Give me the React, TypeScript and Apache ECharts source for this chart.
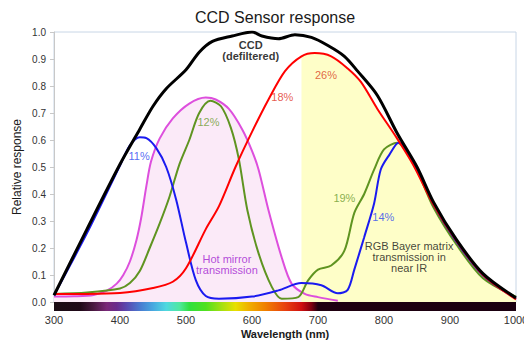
import React, { useEffect, useRef } from "react";
import * as echarts from "echarts";

const FONT = "'Liberation Sans', Arial, sans-serif";

const xTicks = [300, 400, 500, 600, 700, 800, 900, 1000];

const ccd: [number, number][] = [
  [300, 0.025], [350, 0.27], [400, 0.51], [430, 0.64], [450, 0.725], [470, 0.79],
  [500, 0.86], [520, 0.925], [540, 0.965], [570, 0.985], [600, 1.0], [615, 0.985],
  [640, 0.975], [665, 0.99], [690, 0.98], [715, 0.95], [740, 0.91], [760, 0.855],
  [790, 0.765], [820, 0.625], [850, 0.5], [875, 0.37], [910, 0.23], [950, 0.105], [1000, 0.015],
];

const red: [number, number][] = [
  [300, 0.03], [350, 0.03], [400, 0.033], [450, 0.052], [480, 0.075], [500, 0.125],
  [530, 0.27], [550, 0.355], [575, 0.5], [600, 0.63], [625, 0.75], [650, 0.855],
  [675, 0.91], [695, 0.922], [720, 0.91], [745, 0.865], [765, 0.815], [790, 0.715],
  [820, 0.605], [845, 0.505], [875, 0.36], [910, 0.225], [950, 0.1], [1000, 0.01],
];

const blue: [number, number][] = [
  [300, 0.025], [350, 0.255], [400, 0.505], [415, 0.58], [430, 0.61], [440, 0.607],
  [455, 0.57], [470, 0.5], [485, 0.38], [500, 0.22], [515, 0.08], [530, 0.022],
  [550, 0.012], [600, 0.02], [640, 0.043], [675, 0.07], [705, 0.062], [730, 0.032],
  [745, 0.045], [755, 0.12], [770, 0.24], [785, 0.365], [795, 0.49], [808, 0.545],
  [822, 0.59], [850, 0.49], [875, 0.36], [910, 0.222], [950, 0.098], [1000, 0.012],
];

const green: [number, number][] = [
  [300, 0.03], [350, 0.035], [400, 0.05], [415, 0.07], [430, 0.115], [445, 0.2],
  [460, 0.29], [475, 0.39], [490, 0.51], [505, 0.6], [520, 0.7], [537, 0.745],
  [553, 0.725], [568, 0.645], [580, 0.53], [593, 0.34], [610, 0.18], [630, 0.056],
  [645, 0.012], [670, 0.018], [685, 0.08], [700, 0.12], [720, 0.135], [740, 0.19],
  [755, 0.33], [770, 0.4], [785, 0.49], [800, 0.565], [820, 0.59], [850, 0.485],
  [875, 0.35], [910, 0.212], [950, 0.088], [1000, 0.02],
];

const hotMirror: [number, number][] = [
  [300, 0.02], [330, 0.021], [360, 0.026], [380, 0.042], [395, 0.068], [405, 0.1],
  [415, 0.15], [425, 0.23], [432, 0.31], [440, 0.43], [447, 0.52], [460, 0.605],
  [480, 0.68], [505, 0.735], [530, 0.757], [545, 0.75], [565, 0.715], [585, 0.64],
  [600, 0.56], [610, 0.49], [625, 0.34], [645, 0.165], [660, 0.068], [680, 0.03],
  [700, 0.018], [730, 0.005],
];

const irStart = 675;

const annotations = [
  { text: "CCD\n(defiltered)", wl: 598, v: 0.931, color: "#000000", bold: true },
  { text: "11%", wl: 429, v: 0.539, color: "#2a46f0", bold: false },
  { text: "12%", wl: 534, v: 0.668, color: "#6a9a2c", bold: false },
  { text: "18%", wl: 646, v: 0.758, color: "#e0301c", bold: false },
  { text: "26%", wl: 712, v: 0.842, color: "#d8401c", bold: false },
  { text: "19%", wl: 740, v: 0.387, color: "#6a9a2c", bold: false },
  { text: "14%", wl: 799, v: 0.315, color: "#2a46f0", bold: false },
  { text: "Hot mirror\ntransmission", wl: 562, v: 0.14, color: "#a020d0", bold: false },
  { text: "RGB Bayer matrix\ntransmission in\nnear IR", wl: 838, v: 0.168, color: "#111111", bold: false },
];

const spectrumStops: [number, string][] = [
  [300, "#1a0c14"], [340, "#200818"], [360, "#4a1840"], [380, "#7a2878"],
  [395, "#6a2a8c"], [410, "#5a48b0"], [430, "#4a7ad0"], [450, "#48a8e0"],
  [470, "#50d8e0"], [490, "#50e8a0"], [505, "#30e040"], [530, "#50e020"],
  [555, "#a8e010"], [575, "#e8e000"], [595, "#f0b000"], [620, "#f08000"],
  [650, "#e84010"], [675, "#d01010"], [690, "#800010"], [700, "#200010"], [1000, "#1a0010"],
];

const GRID = { left: 54, top: 32, width: 462, height: 270 };

export default function App() {
  const ref = useRef<HTMLDivElement>(null);
  useEffect(() => {
    if (!ref.current) return;
    const chart = echarts.init(ref.current, null, { renderer: "svg" });
    const irArea = red.filter((p) => p[0] >= irStart);
    const lineSeries = (name: string, data: [number, number][], color: string, width: number) => ({
      name,
      type: "line",
      data,
      smooth: 0.3,
      symbol: "none",
      lineStyle: { color, width },
      z: 3,
    });
    chart.setOption({
      animation: false,
      backgroundColor: "#ffffff",
      textStyle: { fontFamily: FONT },
      title: {
        text: "CCD Sensor response",
        left: 195,
        top: 9,
        padding: 0,
        textStyle: { fontSize: 16, fontWeight: "normal", color: "#1a1a1a", fontFamily: FONT },
      },
      grid: {
        left: GRID.left,
        top: GRID.top,
        width: GRID.width,
        height: GRID.height,
        outerBoundsMode: "none",
        containLabel: false,
        show: true,
        borderColor: "#c8d6e6",
        borderWidth: 1,
        backgroundColor: "transparent",
      },
      xAxis: {
        type: "value",
        min: 300,
        max: 1000,
        interval: 100,
        name: "Wavelength (nm)",
        nameLocation: "middle",
        nameGap: 26,
        nameMoveOverlap: false,
        nameTextStyle: { fontSize: 11, fontWeight: "bold", color: "#1a1a1a", fontFamily: FONT },
        axisLine: { show: false },
        axisTick: { show: false },
        splitLine: { show: false },
        axisLabel: {
          margin: 12,
          fontSize: 11,
          color: "#333333",
          fontFamily: FONT,
          customValues: xTicks,
          formatter: (v: number) => String(v),
        },
      },
      yAxis: {
        type: "value",
        min: 0,
        max: 1,
        interval: 0.1,
        name: "Relative response",
        nameLocation: "middle",
        nameGap: 31,
        nameMoveOverlap: false,
        nameTextStyle: { fontSize: 12, color: "#1a1a1a", fontFamily: FONT },
        axisLine: { show: true, lineStyle: { color: "#c8c8c8", width: 1 } },
        axisTick: { show: true, length: 4, lineStyle: { color: "#c8c8c8" } },
        splitLine: { show: false },
        axisLabel: {
          fontSize: 10,
          color: "#333333",
          margin: 8,
          fontFamily: FONT,
          formatter: (v: number) => v.toFixed(1),
        },
      },
      graphic: [
        {
          type: "rect",
          shape: { x: GRID.left, y: GRID.top + GRID.height, width: GRID.width, height: 9 },
          style: {
            fill: new echarts.graphic.LinearGradient(
              0, 0, 1, 0,
              spectrumStops.map(([wl, c]) => ({ offset: (wl - 300) / 700, color: c }))
            ),
          },
          z: 10,
        },
      ],
      series: [
        {
          name: "hotFill",
          type: "line",
          data: hotMirror,
          smooth: 0.3,
          symbol: "none",
          lineStyle: { width: 0, opacity: 0 },
          areaStyle: { color: "#fbeaf8", opacity: 1 },
          z: 1,
        },
        {
          name: "irFill",
          type: "line",
          data: irArea,
          smooth: 0.3,
          symbol: "none",
          lineStyle: { width: 0, opacity: 0 },
          areaStyle: { color: "#fefec8", opacity: 1 },
          z: 2,
        },
        lineSeries("Hot mirror", hotMirror, "#dd4fdd", 2),
        lineSeries("Green", green, "#5f9421", 2),
        lineSeries("Blue", blue, "#1a1af0", 2),
        lineSeries("Red", red, "#ff0000", 2),
        lineSeries("CCD", ccd, "#000000", 3),
        {
          name: "labels",
          type: "scatter",
          symbolSize: 0,
          z: 5,
          data: annotations.map((a) => ({
            value: [a.wl, a.v],
            label: {
              show: true,
              position: "inside",
              formatter: a.text,
              color: a.color,
              fontSize: 11,
              lineHeight: 11,
              fontWeight: a.bold ? "bold" : "normal",
              fontFamily: FONT,
              align: "center",
              verticalAlign: "middle",
            },
          })),
        },
      ],
    });
    return () => chart.dispose();
  }, []);
  return (
    <div
      ref={ref}
      style={{ position: "fixed", left: 0, top: 0, width: 524, height: 340, background: "#fff" }}
    />
  );
}
